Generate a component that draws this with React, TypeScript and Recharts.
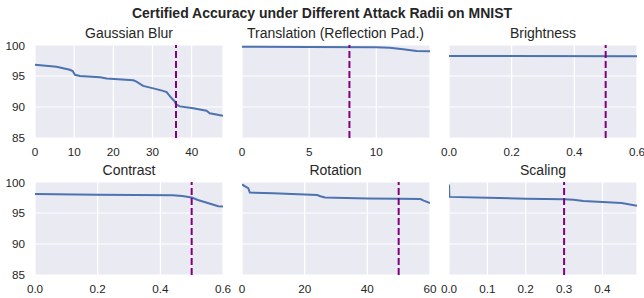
import React from 'react';
import { LineChart, Line, XAxis, YAxis, CartesianGrid, ReferenceLine } from 'recharts';

const chartTitle = 'Certified Accuracy under Different Attack Radii on MNIST';
const panelTitles = ['Gaussian Blur', 'Translation (Reflection Pad.)', 'Brightness', 'Contrast', 'Rotation', 'Scaling'];

const blurRadius = [0, 5.5, 8.9, 9.6, 10.2, 11.5, 16.6, 18.3, 25.1, 25.9, 27.6, 30.2, 32.7, 33.6, 34.9, 35.7, 36, 37, 40.4, 43.8, 44.6, 48];
const blurAcc = [96.8, 96.5, 96.0, 95.8, 95.2, 95.0, 94.8, 94.6, 94.3, 94.1, 93.4, 93.0, 92.6, 92.4, 91.4, 90.9, 90.4, 90.1, 89.8, 89.4, 89.0, 88.6];

const translationRadius = [0, 5, 10, 11, 12, 13, 14];
const translationAcc = [99.72, 99.68, 99.62, 99.55, 99.3, 99.05, 99.0];

const brightnessRadius = [0, 0.6];
const brightnessAcc = [98.22, 98.2];

const contrastRadius = [0, 0.2, 0.44, 0.47, 0.5, 0.52, 0.585, 0.6];
const contrastAcc = [98.05, 97.95, 97.85, 97.75, 97.5, 97.1, 96.1, 96.05];

const rotationRadius = [0, 1, 2, 2.5, 10, 20, 24, 25, 26.5, 40, 50, 57, 58, 60];
const rotationAcc = [99.6, 99.3, 99.0, 98.3, 98.2, 98.0, 97.9, 97.7, 97.5, 97.35, 97.3, 97.25, 97.0, 96.6];

const scalingRadius = [0, 0.001, 0.1, 0.2, 0.3, 0.325, 0.35, 0.45, 0.49];
const scalingAcc = [99.6, 97.6, 97.45, 97.3, 97.2, 97.15, 96.95, 96.6, 96.15];

const thresholds = [36, 8, 0.5, 0.5, 50, 0.3];

const xTicksList = [
  [0, 10, 20, 30, 40],
  [0, 5, 10],
  [0, 0.2, 0.4, 0.6],
  [0, 0.2, 0.4, 0.6],
  [0, 20, 40, 60],
  [0, 0.1, 0.2, 0.3, 0.4],
];
const xMax = [48, 14, 0.6, 0.6, 60, 0.49];
const xDecimals = [0, 0, 1, 1, 0, 1];

const yTicks = [85, 90, 95, 100];

const series = [
  [blurRadius, blurAcc],
  [translationRadius, translationAcc],
  [brightnessRadius, brightnessAcc],
  [contrastRadius, contrastAcc],
  [rotationRadius, rotationAcc],
  [scalingRadius, scalingAcc],
];

const FONT = '"Liberation Sans", Arial, Helvetica, sans-serif';
const TEXT = '#262626';
const TICK_FS = 11.7;
const COL_X = [35, 241.5, 449];
const ROW_Y = [45, 181.5];
const PW = 188;
const PH = 93;

function Panel({ idx }: { idx: number }) {
  const col = idx % 3;
  const row = Math.floor(idx / 3);
  const first = col === 0;
  const mL = first ? 0 : 12;
  const yW = first ? 35 : 0;
  const mT = 6;
  const mR = 12;
  const xH = 24;
  const left = COL_X[col] - yW - mL;
  const top = ROW_Y[row] - mT;
  const width = mL + yW + PW + mR;
  const height = mT + PH + xH;
  const [xs, ys] = series[idx];
  const data = xs.map((x, i) => ({ r: x, acc: ys[i] }));
  const dec = xDecimals[idx];
  return (
    <div style={{ position: 'absolute', left, top }}>
      <LineChart width={width} height={height} data={data} margin={{ top: mT, right: mR, left: mL, bottom: 0 }}>
        <CartesianGrid fill="#EAEAF2" stroke="#ffffff" strokeWidth={1.2} />
        <XAxis
          type="number"
          dataKey="r"
          domain={[0, xMax[idx]]}
          ticks={xTicksList[idx]}
          allowDataOverflow
          interval={0}
          height={xH}
          axisLine={false}
          tickLine={false}
          tickSize={0}
          tickMargin={10}
          tickFormatter={(v: number) => v.toFixed(dec)}
          tick={{ fontSize: TICK_FS, fill: TEXT, fontFamily: FONT }}
        />
        <YAxis
          type="number"
          domain={[85, 100]}
          ticks={yTicks}
          allowDataOverflow
          hide={!first}
          width={yW}
          axisLine={false}
          tickLine={false}
          tickSize={0}
          tickMargin={10}
          tick={{ fontSize: TICK_FS, fill: TEXT, fontFamily: FONT }}
        />
        <Line type="linear" dataKey="acc" stroke="#4C72B0" strokeWidth={2} dot={false} isAnimationActive={false} />
        <ReferenceLine x={thresholds[idx]} stroke="#800080" strokeWidth={2} strokeDasharray="7 3" />
      </LineChart>
      <div
        style={{
          position: 'absolute',
          left: mL + yW,
          width: PW,
          top: mT - 21,
          height: 18,
          lineHeight: '18px',
          textAlign: 'center',
          fontSize: 14,
          color: TEXT,
          fontFamily: FONT,
          whiteSpace: 'nowrap',
        }}
      >
        {panelTitles[idx]}
      </div>
    </div>
  );
}

export default function App() {
  return (
    <div style={{ position: 'absolute', left: 0, top: 0, width: 644, height: 298, background: '#ffffff', fontFamily: FONT, overflow: 'hidden' }}>
      <div
        style={{
          position: 'absolute',
          left: 0,
          top: 4,
          width: 644,
          height: 18,
          lineHeight: '18px',
          textAlign: 'center',
          fontSize: 14,
          fontWeight: 'bold',
          color: TEXT,
        }}
      >
        {chartTitle}
      </div>
      {[0, 1, 2, 3, 4, 5].map((i) => (
        <Panel key={i} idx={i} />
      ))}
    </div>
  );
}
